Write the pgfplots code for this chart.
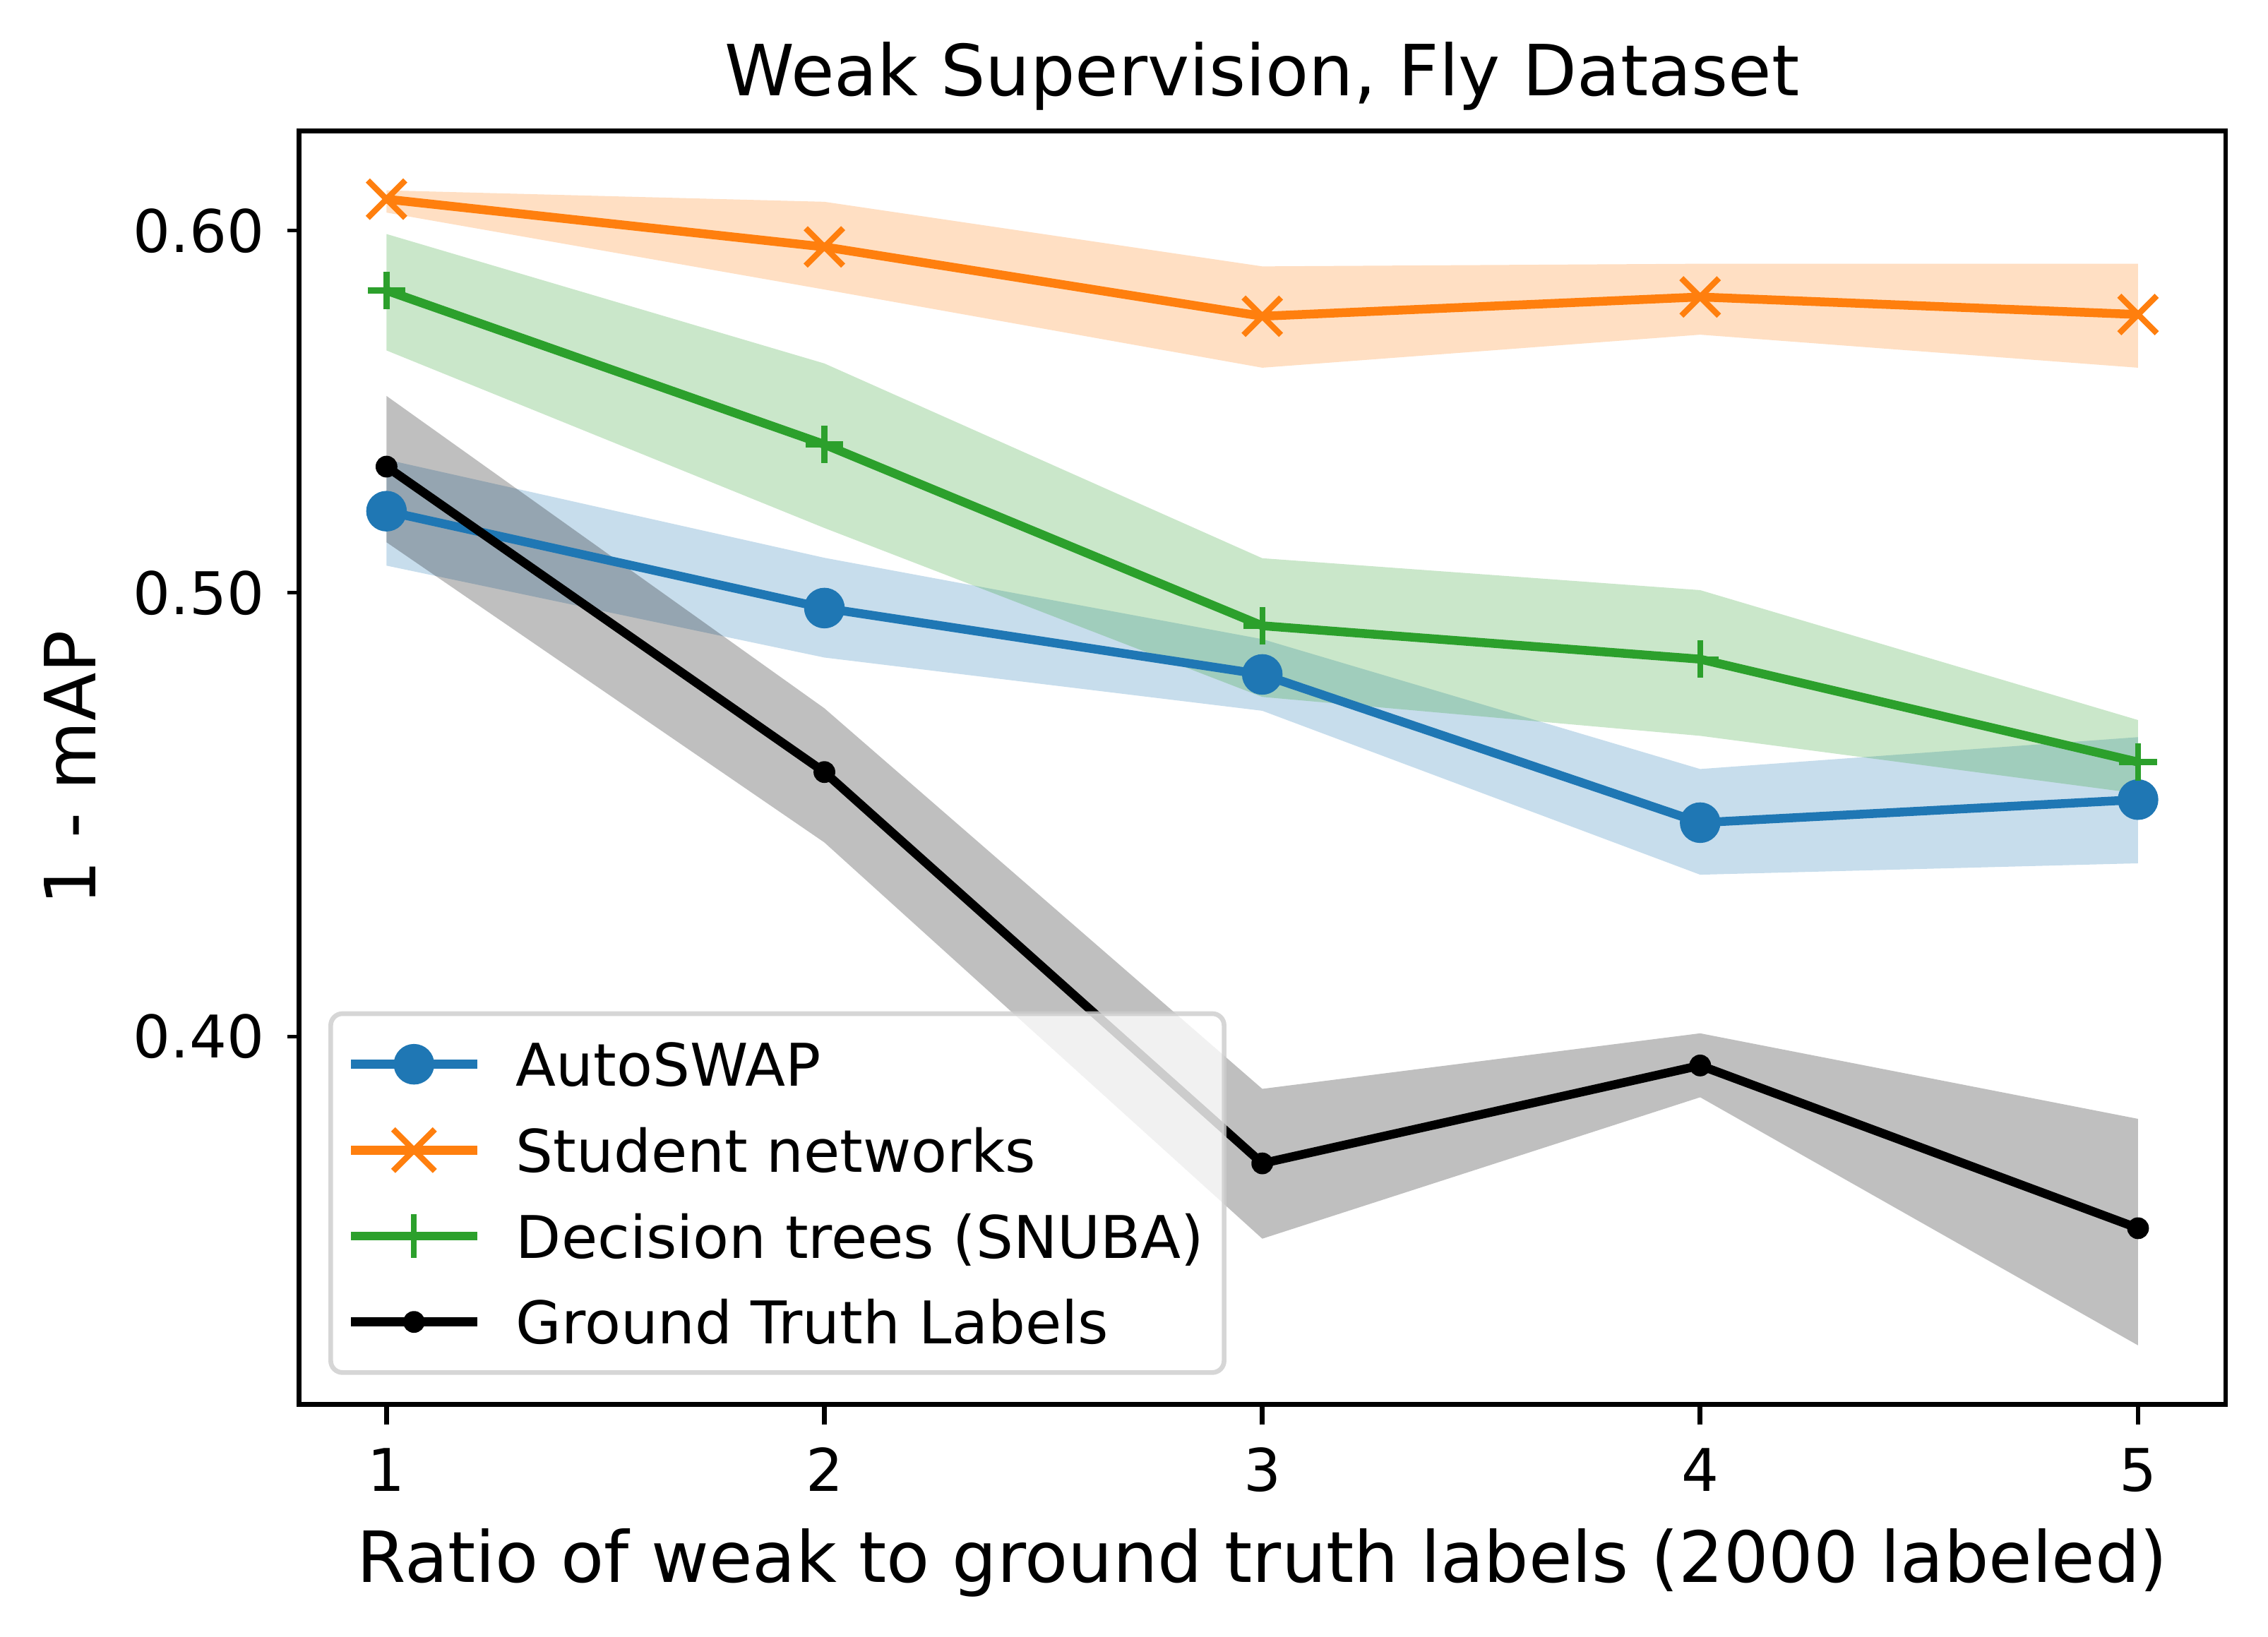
\documentclass[border=0pt]{standalone}
\usepackage{fontspec}
\setmainfont{DejaVu Sans}
\usepackage{pgfplots}
\usepackage{pgfplotstable}
\pgfplotsset{compat=1.18}
\usepgfplotslibrary{fillbetween}
\definecolor{tabblue}{HTML}{1F77B4}
\definecolor{taborange}{HTML}{FF7F0E}
\definecolor{tabgreen}{HTML}{2CA02C}
\pgfplotstableread{
x mean lo hi
1 0.5210 0.5069 0.5347
2 0.4962 0.4840 0.5089
3 0.4799 0.4712 0.4885
4 0.4454 0.4339 0.4576
5 0.4506 0.4364 0.4650
}\autoswap
\pgfplotstableread{
x mean lo hi
1 0.6096 0.6055 0.6123
2 0.5951 0.5825 0.6088
3 0.5747 0.5600 0.5893
4 0.5803 0.5694 0.5901
5 0.5752 0.5600 0.5901
}\student
\pgfplotstableread{
x mean lo hi
1 0.5822 0.5649 0.5990
2 0.5388 0.5166 0.5612
3 0.4918 0.4745 0.5088
4 0.4836 0.4653 0.5007
5 0.4592 0.4520 0.4690
}\snuba
\pgfplotstableread{
x mean lo hi
1 0.5328 0.5129 0.5521
2 0.4569 0.4410 0.4718
3 0.3753 0.3613 0.3896
4 0.3942 0.3880 0.4006
5 0.3632 0.3424 0.3838
}\gt
\begin{document}
\begin{tikzpicture}
\begin{axis}[
  at={(0,0)}, anchor=south west,
  width=327.4pt, height=216.4pt, scale only axis,
  xmin=0.8, xmax=5.2,
  ymode=log, ymin=0.3324, ymax=0.6308,
  xtick={1,2,3,4,5}, xticklabels={1,2,3,4,5},
  ytick={0.4,0.5,0.6}, yticklabels={0.40,0.50,0.60},
  minor ytick={0.4,0.5,0.6},
  xtick pos=bottom, ytick pos=left,
  /pgf/number format/assume math mode=true,
  tick align=outside,
  major tick length=3.5pt, minor tick length=2pt,
  every major y tick/.append style={draw=none},
  every minor tick/.append style={line width=0.6pt, black},
  xtick style={line width=0.8pt, black},
  axis line style={line width=0.8pt},
  tick label style={font=\fontsize{10}{12}\selectfont, inner sep=0pt},
  xticklabel style={anchor=base, yshift=-11.3pt},
  yticklabel style={anchor=east, xshift=-2.2pt},
  every axis title shift=0pt,
  title={Weak Supervision, Fly Dataset},
  title style={font=\fontsize{12}{14.4}\selectfont, at={(axis description cs:0.5,1.02773)}, anchor=base, inner sep=0pt},
  xlabel={Ratio of weak to ground truth labels (2000 labeled)},
  xlabel style={font=\fontsize{12}{14.4}\selectfont, at={(axis description cs:0.5,-0.14002)}, anchor=base, inner sep=0pt},
  ylabel={1 - mAP},
  ylabel style={font=\fontsize{12}{14.4}\selectfont, at={(axis description cs:-0.10568,0.5)}, anchor=base, inner sep=0pt},
  legend style={
    at={(axis description cs:0,0)}, anchor=south west, xshift=5pt, yshift=5pt,
    font=\fontsize{10}{12}\selectfont,
    draw=black!20, draw opacity=0.8, line width=0.8pt, rounded corners=2pt,
    fill=white, fill opacity=0.8, text opacity=1,
    inner xsep=3.4pt, inner ysep=1.3pt,
    row sep=0pt, column sep=6.6pt,
    nodes={inner xsep=0pt, inner ysep=2.45pt, text height=8.6pt, text depth=1.1pt},
    cells={anchor=west},
  },
  legend image code/.code={\draw[mark repeat=2,mark phase=2,#1] plot coordinates {(0pt,0pt) (10pt,0pt) (20pt,0pt)};},
  legend image post style={opacity=1, rounded corners=0pt, line cap=rect},
]
% bands
\addplot[draw=none, forget plot, name path=ahi] table[x=x,y=hi]{\autoswap};
\addplot[draw=none, forget plot, name path=alo] table[x=x,y=lo]{\autoswap};
\addplot[fill=tabblue, fill opacity=0.25, draw=none, forget plot] fill between[of=ahi and alo];
\addplot[draw=none, forget plot, name path=shi] table[x=x,y=hi]{\student};
\addplot[draw=none, forget plot, name path=slo] table[x=x,y=lo]{\student};
\addplot[fill=taborange, fill opacity=0.25, draw=none, forget plot] fill between[of=shi and slo];
\addplot[draw=none, forget plot, name path=dhi] table[x=x,y=hi]{\snuba};
\addplot[draw=none, forget plot, name path=dlo] table[x=x,y=lo]{\snuba};
\addplot[fill=tabgreen, fill opacity=0.25, draw=none, forget plot] fill between[of=dhi and dlo];
\addplot[draw=none, forget plot, name path=ghi] table[x=x,y=hi]{\gt};
\addplot[draw=none, forget plot, name path=glo] table[x=x,y=lo]{\gt};
\addplot[fill=black, fill opacity=0.25, draw=none, forget plot] fill between[of=ghi and glo];
% lines
\addplot[tabblue, line width=1.5pt, mark=*, mark size=3.2pt, mark options={solid, fill=tabblue, line width=0.5pt}] table[x=x,y=mean]{\autoswap};
\addlegendentry{AutoSWAP}
\addplot[taborange, line width=1.5pt, mark=x, mark size=4.5pt, mark options={solid, line width=1pt}] table[x=x,y=mean]{\student};
\addlegendentry{Student networks}
\addplot[tabgreen, line width=1.5pt, mark=+, mark size=3.2pt, mark options={solid, line width=1pt}] table[x=x,y=mean]{\snuba};
\addlegendentry{Decision trees (SNUBA)}
\addplot[black, line width=1.5pt, mark=*, mark size=1.6pt, mark options={solid, fill=black, line width=0.5pt}] table[x=x,y=mean]{\gt};
\addlegendentry{Ground Truth Labels}
\end{axis}
\pgfresetboundingbox
\path[use as bounding box] (-50.8pt,-39.5pt) rectangle (334.6pt,238.7pt);
\end{tikzpicture}
\end{document}
